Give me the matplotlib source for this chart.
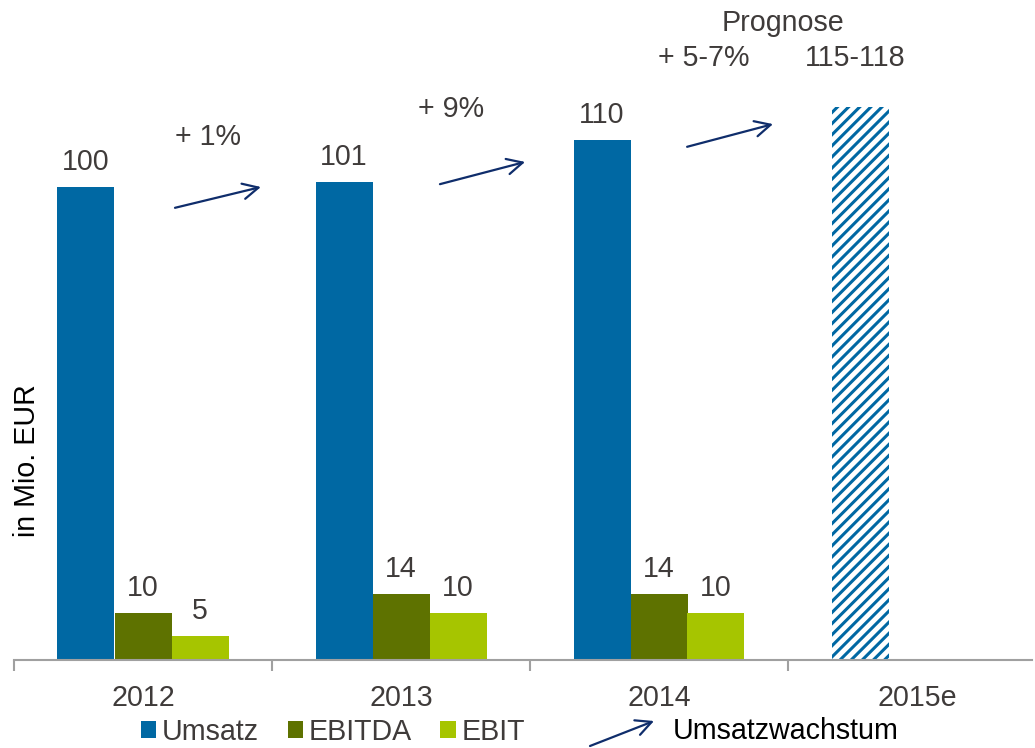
import matplotlib
matplotlib.use("Agg")
import matplotlib.pyplot as plt
from matplotlib.patches import Patch, FancyArrowPatch
import numpy as np

plt.rcParams['font.family'] = ['Liberation Sans', 'DejaVu Sans']
plt.rcParams['hatch.linewidth'] = 2.2

years = ["2012", "2013", "2014", "2015e"]
umsatz = [100, 101, 110]
ebitda = [10, 14, 14]
ebit = [5, 10, 10]
umsatz_forecast = 117
growth_labels = ["+ 1%", "+ 9%", "+ 5-7%"]
forecast_label = "115-118"
forecast_title = "Prognose"
series_names = ["Umsatz", "EBITDA", "EBIT"]
arrow_legend = "Umsatzwachstum"
ylabel = "in Mio. EUR"

c_ums = "#0068A3"
c_ebitda = "#5E7200"
c_ebit = "#A6C500"
c_txt = "#3F3B3A"
c_arrow = "#0F2D6B"
fs = 20.6

fig = plt.figure(figsize=(10.35, 7.48), dpi=100)
ax = fig.add_axes([14/1035, 88/748, 1018/1035, 660/748])

w = 57/258
x = np.arange(3)
b1 = ax.bar(x - w, umsatz, w, color=c_ums, linewidth=0)
b2 = ax.bar(x, ebitda, w, color=c_ebitda, linewidth=0)
b3 = ax.bar(x + w, ebit, w, color=c_ebit, linewidth=0)
b4 = ax.bar([3 - w], [umsatz_forecast], w, color="white", edgecolor=c_ums,
            hatch="///", linewidth=0)

for bars in (b1, b2, b3):
    ax.bar_label(bars, padding=8, fontsize=fs, color=c_txt)

for s in ["top", "right", "left"]:
    ax.spines[s].set_visible(False)
ax.spines["bottom"].set_color("#A0A0A0")
ax.spines["bottom"].set_linewidth(1.5)
ax.set_yticks([])
ax.set_xticks(np.arange(-0.5, 3.0, 1.0))
ax.set_xticklabels([])
ax.tick_params(axis="x", which="major", length=8, width=1.5, color="#A0A0A0")
ax.set_xticks(np.arange(4), minor=True)
ax.set_xticklabels(years, minor=True)
ax.tick_params(axis="x", which="minor", length=0, pad=17, labelsize=fs, labelcolor=c_txt)

ax.set_xlim(-0.5, -0.5 + 1018/258)
ax.set_ylim(0, 660/4.73)

# growth arrows
arrows = [((0.124, 95.6), (0.457, 100.0)),
          ((1.151, 100.6), (1.481, 105.3)),
          ((2.109, 108.5), (2.442, 113.3))]
for (s, e) in arrows:
    ax.annotate("", xy=e, xytext=s,
                arrowprops=dict(arrowstyle="->", color=c_arrow, lw=1.6,
                                mutation_scale=28, shrinkA=0, shrinkB=0))

ax.text(0.252, 110.6, growth_labels[0], fontsize=fs, color=c_txt, ha="center", va="center")
ax.text(1.194, 116.5, growth_labels[1], fontsize=fs, color=c_txt, ha="center", va="center")
ax.text(2.174, 127.3, growth_labels[2], fontsize=fs, color=c_txt, ha="center", va="center")
ax.text(2.760, 127.3, forecast_label, fontsize=fs, color=c_txt, ha="center", va="center")
ax.text(2.481, 134.6, forecast_title, fontsize=fs, color=c_txt, ha="center", va="center")

fig.text(27/1035, 1 - 461/748, ylabel, rotation=90, fontsize=fs, color="black",
         ha="center", va="center")

handles = [Patch(facecolor=c_ums), Patch(facecolor=c_ebitda), Patch(facecolor=c_ebit)]
leg = fig.legend(handles, series_names, ncol=3, loc="center",
                 bbox_to_anchor=(333/1035, 1 - 732/748), frameon=False,
                 fontsize=fs, handlelength=0.53, handleheight=0.53,
                 handletextpad=0.2, columnspacing=1.0, borderpad=0, borderaxespad=0)
for t in leg.get_texts():
    t.set_color(c_txt)

fig.patches.append(FancyArrowPatch(
    (590/1035, 1 - 746/748), (654/1035, 1 - 721/748), transform=fig.transFigure,
    arrowstyle="->", color=c_arrow, lw=1.6, mutation_scale=28, shrinkA=0, shrinkB=0))
fig.text(673/1035, 1 - 731/748, arrow_legend, fontsize=fs, color="black",
         ha="left", va="center")

fig.savefig("out.png", dpi=100)
